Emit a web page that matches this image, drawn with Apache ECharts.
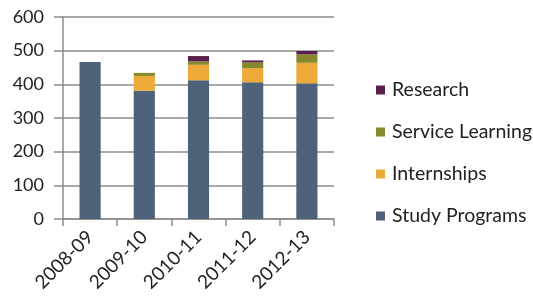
<!DOCTYPE html>
<html><head><meta charset="utf-8">
<script src="https://cdn.jsdelivr.net/npm/echarts@6/dist/echarts.min.js"></script>
<style>html,body{margin:0;padding:0;background:#fff}#c{width:533px;height:301px}</style>
</head><body><div id="c"></div>
<script>
var categories = ['2008-09','2009-10','2010-11','2011-12','2012-13'];
var studyPrograms = [466, 381, 412, 406, 403];
var internships = [0, 44, 46, 42, 61];
var serviceLearning = [0, 9, 10, 17, 25];
var research = [0, 0, 16, 6, 10];
var yTicks = [0, 100, 200, 300, 400, 500, 600];

var font = 'Lato';
var chart = echarts.init(document.getElementById('c'));
function s(name, data, color) {
  return {name: name, type: 'bar', stack: 'a', data: data, barWidth: '39%',
    itemStyle: {color: color}, emphasis: {disabled: true}};
}
chart.setOption({
  animation: false,
  textStyle: {fontFamily: font},
  grid: {left: 63, right: 199, top: 17, bottom: 82, containLabel: false},
  legend: {
    orient: 'vertical', left: 376, top: 80, itemWidth: 9, itemHeight: 9, itemGap: 22,
    icon: 'rect', padding: 0,
    data: ['Research', 'Service Learning', 'Internships', 'Study Programs'],
    textStyle: {fontFamily: font, fontSize: 19.5, lineHeight: 20, color: '#222', padding: [0,0,0,2]}
  },
  xAxis: {
    type: 'category', data: categories,
    axisLine: {lineStyle: {color: '#8c8c8c', width: 1.5}},
    axisTick: {show: true, length: 7, lineStyle: {color: '#8c8c8c', width: 1.5}},
    axisLabel: {rotate: 45, fontSize: 19, color: '#222', margin: 15, fontFamily: font}
  },
  yAxis: {
    type: 'value', min: yTicks[0], max: yTicks[yTicks.length-1], interval: 100,
    axisLine: {show: true, lineStyle: {color: '#8c8c8c', width: 1.5}},
    axisTick: {show: true, length: 9, lineStyle: {color: '#8c8c8c', width: 1.5}},
    splitLine: {lineStyle: {color: '#8c8c8c', width: 1.5}},
    axisLabel: {fontSize: 18, color: '#222', margin: 19, fontFamily: font}
  },
  series: [
    s('Study Programs', studyPrograms, '#4e6279'),
    s('Internships', internships, '#edaa38'),
    s('Service Learning', serviceLearning, '#86892b'),
    s('Research', research, '#5b1f4e')
  ]
});
</script></body></html>
